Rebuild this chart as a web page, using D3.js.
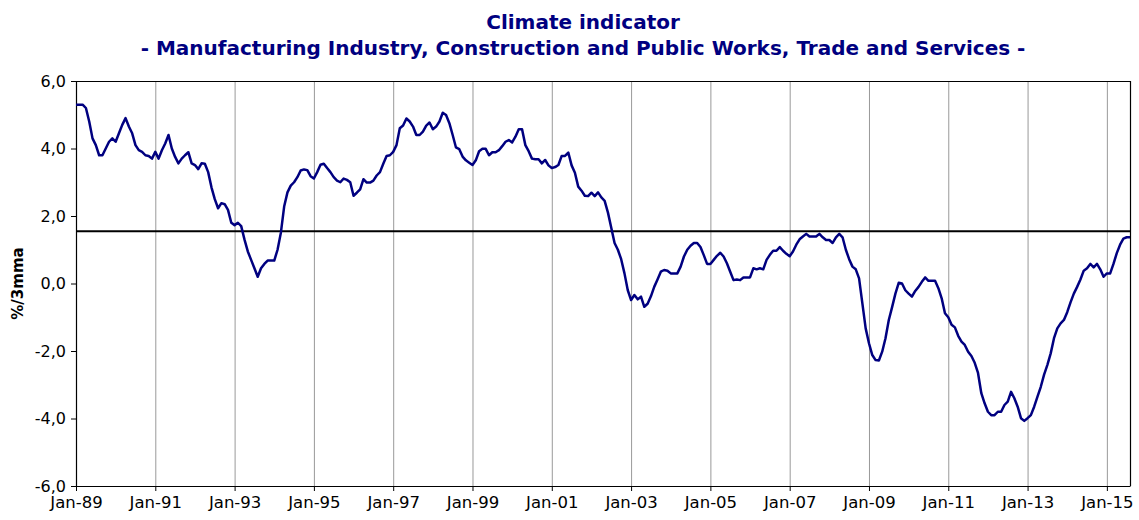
<!DOCTYPE html>
<html>
<head>
<meta charset="utf-8">
<script src="https://cdn.jsdelivr.net/npm/d3@7"></script>
<style>
  body { margin: 0; background: #fff; }
  text { font-family: "DejaVu Sans", Verdana, sans-serif; }
</style>
</head>
<body>
<script>
// monthly values, Jan-89 .. Aug-15 (%/3mma)
const startYear = 1989;
const values = [
  5.3, 5.3, 5.3, 5.2, 4.8, 4.3, 4.1, 3.8, 3.8, 4.0, 4.2, 4.3,          // 1989
  4.2, 4.45, 4.7, 4.9, 4.65, 4.45, 4.1, 3.95, 3.9, 3.8, 3.78, 3.7,     // 1990
  3.9, 3.7, 3.95, 4.15, 4.4, 4.0, 3.75, 3.56, 3.7, 3.8, 3.89, 3.56,    // 1991
  3.51, 3.39, 3.56, 3.55, 3.3, 2.85, 2.5, 2.23, 2.38, 2.35, 2.18, 1.8, // 1992
  1.73, 1.8, 1.7, 1.3, 0.95, 0.7, 0.45, 0.2, 0.45, 0.58, 0.68, 0.68,   // 1993
  0.68, 1.0, 1.5, 2.28, 2.7, 2.9, 3.0, 3.15, 3.35, 3.38, 3.36, 3.18,   // 1994
  3.11, 3.3, 3.52, 3.55, 3.42, 3.3, 3.15, 3.05, 3.0, 3.11, 3.07, 3.0,  // 1995
  2.6, 2.69, 2.79, 3.09, 2.99, 2.99, 3.05, 3.2, 3.3, 3.55, 3.78, 3.8,  // 1996
  3.9, 4.1, 4.6, 4.68, 4.89, 4.8, 4.65, 4.4, 4.4, 4.5, 4.68, 4.77,     // 1997
  4.57, 4.65, 4.8, 5.06, 4.99, 4.75, 4.4, 4.03, 3.98, 3.76, 3.65, 3.58, // 1998
  3.51, 3.65, 3.92, 3.99, 3.99, 3.8, 3.89, 3.89, 3.95, 4.07, 4.2, 4.25, // 1999
  4.18, 4.35, 4.57, 4.57, 4.1, 3.92, 3.7, 3.68, 3.68, 3.56, 3.66, 3.5,  // 2000
  3.42, 3.45, 3.51, 3.78, 3.78, 3.88, 3.5, 3.28, 2.87, 2.75, 2.6, 2.59, // 2001
  2.69, 2.59, 2.7, 2.55, 2.45, 2.1, 1.65, 1.2, 1.0, 0.72, 0.3, -0.2,    // 2002
  -0.49, -0.34, -0.47, -0.39, -0.69, -0.6, -0.38, -0.1, 0.12, 0.35, 0.4, 0.38, // 2003
  0.3, 0.3, 0.3, 0.5, 0.8, 1.0, 1.12, 1.2, 1.2, 1.08, 0.84, 0.58,      // 2004
  0.58, 0.7, 0.82, 0.91, 0.8, 0.6, 0.35, 0.1, 0.12, 0.1, 0.18, 0.18,   // 2005
  0.18, 0.45, 0.42, 0.45, 0.42, 0.7, 0.85, 0.97, 0.97, 1.08, 0.97, 0.88, // 2006
  0.81, 0.95, 1.15, 1.31, 1.39, 1.47, 1.39, 1.39, 1.39, 1.47, 1.37, 1.29, // 2007
  1.29, 1.2, 1.37, 1.47, 1.37, 1.0, 0.72, 0.5, 0.42, 0.15, -0.59, -1.33,  // 2008
  -1.77, -2.12, -2.27, -2.28, -2.02, -1.62, -1.08, -0.7, -0.3, 0.02, 0.0, -0.2, // 2009
  -0.3, -0.39, -0.22, -0.1, 0.05, 0.18, 0.08, 0.08, 0.08, -0.14, -0.44, -0.88,  // 2010
  -1.0, -1.22, -1.3, -1.55, -1.72, -1.82, -2.02, -2.15, -2.35, -2.65, -3.25, -3.55, // 2011
  -3.8, -3.9, -3.9, -3.8, -3.8, -3.6, -3.5, -3.21, -3.4, -3.65, -3.99, -4.07,     // 2012
  -3.99, -3.9, -3.65, -3.35, -3.06, -2.7, -2.41, -2.07, -1.62, -1.33, -1.18, -1.08, // 2013
  -0.85, -0.56, -0.3, -0.1, 0.12, 0.38, 0.45, 0.58, 0.48, 0.58, 0.42, 0.2,        // 2014
  0.3, 0.3, 0.58, 0.9, 1.15, 1.33, 1.37, 1.37                                     // 2015
];
const average = 1.55;

const yTicks = [-6, -4, -2, 0, 2, 4, 6];
const xTickLabels = ['Jan-89', 'Jan-91', 'Jan-93', 'Jan-95', 'Jan-97', 'Jan-99', 'Jan-01',
  'Jan-03', 'Jan-05', 'Jan-07', 'Jan-09', 'Jan-11', 'Jan-13', 'Jan-15'];
const xTickMonths = xTickLabels.map((d, i) => i * 24);

const margin = { top: 81, right: 9, bottom: 34, left: 76 };
const W = 1139, H = 520;
const width = W - margin.left - margin.right;
const height = H - margin.top - margin.bottom;

const svg = d3.select('body').append('svg')
    .attr('width', W)
    .attr('height', H);

const g = svg.append('g')
    .attr('transform', `translate(${margin.left}, ${margin.top})`);

const x = d3.scaleLinear()
  .domain([0, values.length - 1])
  .range([0, width]);

const y = d3.scaleLinear()
  .domain([-6, 6])
  .range([height, 0]);

// vertical gridlines
g.append('g')
  .selectAll('line')
  .data(xTickMonths.slice(1))
  .join('line')
    .attr('x1', d => x(d) + 0.5)
    .attr('x2', d => x(d) + 0.5)
    .attr('y1', 0)
    .attr('y2', height)
    .attr('stroke', '#999')
    .attr('stroke-width', 1);

// frame top / right
g.append('path')
  .attr('d', `M0,0.5H${width + 0.5}V${height}`)
  .attr('fill', 'none')
  .attr('stroke', '#000')
  .attr('stroke-width', 1.2);

const fmt = v => v.toFixed(1).replace('.', ',');

const yAxis = d3.axisLeft(y)
  .tickValues(yTicks)
  .tickFormat(fmt)
  .tickSize(5)
  .tickSizeOuter(0);

g.append('g')
  .attr('class', 'y-axis')
  .call(yAxis)
  .call(a => a.select('.domain').attr('stroke-width', 1.2))
  .call(a => a.selectAll('text')
    .attr('font-size', 16)
    .attr('font-family', '"DejaVu Sans", Verdana, sans-serif')
    .attr('fill', '#000')
    .attr('dx', -2));

const xAxis = d3.axisBottom(x)
  .tickValues(xTickMonths)
  .tickFormat((d, i) => xTickLabels[i])
  .tickSize(5)
  .tickSizeOuter(0);

g.append('g')
  .attr('class', 'x-axis')
  .attr('transform', `translate(0, ${height})`)
  .call(xAxis)
  .call(a => a.select('.domain').attr('stroke-width', 1.2))
  .call(a => a.selectAll('text')
    .attr('font-size', 16.5)
    .attr('font-family', '"DejaVu Sans", Verdana, sans-serif')
    .attr('fill', '#000')
    .attr('dy', '0.85em'));

// average line
g.append('line')
  .attr('x1', 0)
  .attr('x2', width)
  .attr('y1', y(average))
  .attr('y2', y(average))
  .attr('stroke', '#000')
  .attr('stroke-width', 2);

// series
const line = d3.line()
  .x((d, i) => x(i))
  .y(d => y(d));

g.append('path')
  .datum(values)
  .attr('d', line)
  .attr('fill', 'none')
  .attr('stroke', '#000080')
  .attr('stroke-width', 2.5)
  .attr('stroke-linejoin', 'round');

// y title
svg.append('text')
  .attr('transform', `translate(23, ${margin.top + y(0)}) rotate(-90)`)
  .attr('text-anchor', 'middle')
  .attr('font-size', 15)
  .attr('font-weight', 'bold')
  .text('%/3mma');

// titles
svg.append('text')
  .attr('x', 583)
  .attr('y', 29)
  .attr('text-anchor', 'middle')
  .attr('font-size', 20)
  .attr('font-weight', 'bold')
  .attr('fill', '#000080')
  .text('Climate indicator');

svg.append('text')
  .attr('x', 583)
  .attr('y', 55)
  .attr('text-anchor', 'middle')
  .attr('font-size', 20)
  .attr('font-weight', 'bold')
  .attr('fill', '#000080')
  .text('- Manufacturing Industry, Construction and Public Works, Trade and Services -');
</script>
</body>
</html>
